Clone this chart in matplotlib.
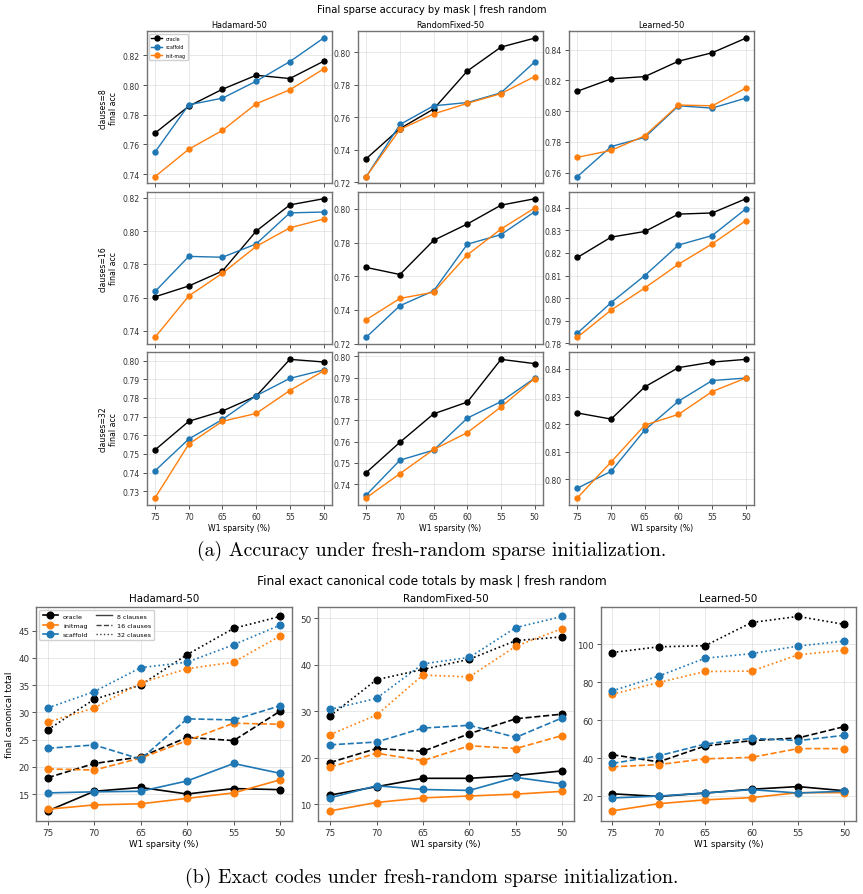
import numpy as np
import matplotlib.pyplot as plt
from matplotlib.lines import Line2D

sparsity = [75, 70, 65, 60, 55, 50]
masks = ["Hadamard-50", "RandomFixed-50", "Learned-50"]
clause_counts = [8, 16, 32]

# (a) final accuracy, one row per clause count (8, 16, 32)
acc_hadamard_oracle = [[0.7677, 0.7858, 0.7972, 0.8066, 0.8044, 0.8160],
                       [0.7605, 0.7670, 0.7760, 0.8000, 0.8158, 0.8195],
                       [0.7522, 0.7675, 0.7730, 0.7810, 0.8007, 0.7993]]
acc_hadamard_scaffold = [[0.7550, 0.7867, 0.7912, 0.8026, 0.8158, 0.8316],
                         [0.7637, 0.7848, 0.7843, 0.7923, 0.8110, 0.8115],
                         [0.7410, 0.7580, 0.7685, 0.7812, 0.7905, 0.7950]]
acc_hadamard_initmag = [[0.7384, 0.7568, 0.7695, 0.7874, 0.7968, 0.8108],
                        [0.7362, 0.7610, 0.7747, 0.7908, 0.8020, 0.8073],
                        [0.7265, 0.7553, 0.7675, 0.7717, 0.7840, 0.7945]]

acc_random_oracle = [[0.7345, 0.7530, 0.7650, 0.7884, 0.8031, 0.8086],
                     [0.7652, 0.7610, 0.7813, 0.7910, 0.8022, 0.8060],
                     [0.7455, 0.7597, 0.7730, 0.7785, 0.7985, 0.7965]]
acc_random_scaffold = [[0.7235, 0.7555, 0.7670, 0.7690, 0.7750, 0.7940],
                       [0.7238, 0.7425, 0.7513, 0.7790, 0.7847, 0.7983],
                       [0.7350, 0.7513, 0.7560, 0.7710, 0.7787, 0.7897]]
acc_random_initmag = [[0.7235, 0.7525, 0.7620, 0.7685, 0.7745, 0.7850],
                      [0.7342, 0.7468, 0.7505, 0.7727, 0.7880, 0.8005],
                      [0.7337, 0.7450, 0.7563, 0.7642, 0.7762, 0.7895]]

acc_learned_oracle = [[0.8130, 0.8210, 0.8225, 0.8325, 0.8380, 0.8475],
                      [0.8180, 0.8270, 0.8295, 0.8372, 0.8377, 0.8440],
                      [0.8240, 0.8218, 0.8335, 0.8405, 0.8425, 0.8435]]
acc_learned_scaffold = [[0.7575, 0.7770, 0.7830, 0.8035, 0.8020, 0.8085],
                        [0.7845, 0.7980, 0.8100, 0.8235, 0.8277, 0.8395],
                        [0.7967, 0.8028, 0.8178, 0.8283, 0.8358, 0.8367]]
acc_learned_initmag = [[0.7700, 0.7745, 0.7840, 0.8040, 0.8035, 0.8150],
                       [0.7827, 0.7947, 0.8045, 0.8150, 0.8240, 0.8343],
                       [0.7932, 0.8062, 0.8196, 0.8235, 0.8318, 0.8367]]

# (b) exact canonical code totals, one row per clause count (8, 16, 32)
codes_hadamard_oracle = [[11.9, 15.5, 16.2, 15.0, 16.0, 15.8],
                         [18.0, 20.6, 21.8, 25.4, 24.8, 30.2],
                         [26.8, 32.4, 35.0, 40.6, 45.4, 47.6]]
codes_hadamard_initmag = [[12.2, 13.0, 13.2, 14.2, 15.2, 17.6],
                          [19.6, 19.4, 21.6, 24.8, 28.0, 27.8],
                          [28.2, 30.8, 35.4, 38.0, 39.2, 44.0]]
codes_hadamard_scaffold = [[15.2, 15.4, 15.5, 17.4, 20.6, 18.8],
                           [23.4, 24.0, 21.4, 28.8, 28.6, 31.2],
                           [30.8, 33.8, 38.2, 39.2, 42.4, 46.0]]

codes_random_oracle = [[12.0, 13.8, 15.6, 15.6, 16.2, 17.2],
                       [19.0, 22.0, 21.4, 25.2, 28.4, 29.4],
                       [29.0, 36.8, 39.0, 41.2, 45.2, 46.0]]
codes_random_initmag = [[8.6, 10.4, 11.4, 11.8, 12.2, 12.8],
                        [18.0, 21.0, 19.4, 22.6, 22.0, 24.8],
                        [25.0, 29.2, 37.8, 37.4, 44.0, 47.8]]
codes_random_scaffold = [[11.4, 14.0, 13.2, 13.0, 15.8, 14.4],
                         [22.8, 23.4, 26.4, 27.0, 24.4, 28.6],
                         [30.4, 32.8, 40.2, 41.6, 48.0, 50.4]]

codes_learned_oracle = [[21.2, 19.8, 21.6, 23.6, 25.0, 22.8],
                        [41.8, 38.0, 46.4, 49.2, 50.6, 56.6],
                        [95.6, 98.6, 99.2, 111.4, 114.6, 110.4]]
codes_learned_initmag = [[12.2, 16.0, 18.0, 19.2, 21.8, 21.8],
                         [35.4, 36.6, 39.6, 40.4, 45.0, 45.0],
                         [73.6, 79.8, 85.6, 85.8, 94.4, 96.8]]
codes_learned_scaffold = [[19.0, 20.0, 21.6, 23.4, 21.6, 22.6],
                          [37.2, 41.2, 47.4, 50.4, 49.2, 52.0],
                          [75.4, 83.2, 92.6, 95.0, 99.0, 101.6]]

acc_data = [
    {"oracle": acc_hadamard_oracle, "scaffold": acc_hadamard_scaffold, "init-mag": acc_hadamard_initmag},
    {"oracle": acc_random_oracle, "scaffold": acc_random_scaffold, "init-mag": acc_random_initmag},
    {"oracle": acc_learned_oracle, "scaffold": acc_learned_scaffold, "init-mag": acc_learned_initmag},
]
codes_data = [
    {"oracle": codes_hadamard_oracle, "initmag": codes_hadamard_initmag, "scaffold": codes_hadamard_scaffold},
    {"oracle": codes_random_oracle, "initmag": codes_random_initmag, "scaffold": codes_random_scaffold},
    {"oracle": codes_learned_oracle, "initmag": codes_learned_initmag, "scaffold": codes_learned_scaffold},
]

COLORS = {"oracle": "black", "scaffold": "#1f77b4", "init-mag": "#ff7f0e", "initmag": "#ff7f0e"}
STYLES = ["-", "--", ":"]
SPINE = "0.45"

fig = plt.figure(figsize=(8.63, 8.95), dpi=100)

def style_axes(ax, fs):
    ax.grid(True, color="0.85", linewidth=0.6, alpha=0.7)
    ax.tick_params(labelsize=fs, length=3, width=0.6, pad=2, colors="0.2")
    for s in ax.spines.values():
        s.set_color(SPINE)
        s.set_linewidth(1.0)
    ax.set_xticks(sparsity)
    ax.set_xlim(76.25, 48.75)

# ---- (a) accuracy grid ----
gs_a = fig.add_gridspec(3, 3, left=0.170, right=0.874, top=0.964, bottom=0.435,
                        wspace=0.14, hspace=0.055)
fs_a = 5.6
for r, nc in enumerate(clause_counts):
    for c, mask in enumerate(masks):
        ax = fig.add_subplot(gs_a[r, c])
        for name, vals in acc_data[c].items():
            ax.plot(sparsity, vals[r], marker="o", ms=3.6, lw=1.0,
                    color=COLORS[name], label=name)
        style_axes(ax, fs_a)
        if r == 0:
            ax.set_title(mask, fontsize=fs_a + 0.3, pad=3)
        if r < 2:
            ax.tick_params(labelbottom=False)
        else:
            ax.set_xlabel("W1 sparsity (%)", fontsize=fs_a, labelpad=2)
        if c == 0:
            ax.set_ylabel(f"clauses={nc}\nfinal acc", fontsize=fs_a, labelpad=3)
        if r == 0 and c == 0:
            ax.legend(loc="upper left", fontsize=3.4, handlelength=2.2,
                      borderpad=0.5, labelspacing=0.7, framealpha=0.9)

fig.text(0.5, 1 - 10 / 895, "Final sparse accuracy by mask | fresh random",
         ha="center", va="center", fontsize=7.2)
fig.text(0.5, 1 - 551 / 895, "(a) Accuracy under fresh-random sparse initialization.",
         ha="center", va="center", fontsize=14.3, family="cmr10")

# ---- (b) exact canonical code totals ----
gs_b = fig.add_gridspec(1, 3, left=0.042, right=0.992, top=0.321, bottom=0.082,
                        wspace=0.105)
fs_b = 6.3
for c, mask in enumerate(masks):
    ax = fig.add_subplot(gs_b[0, c])
    for name, vals in codes_data[c].items():
        for r in range(3):
            ax.plot(sparsity, vals[r], marker="o", ms=4.8, lw=1.2,
                    ls=STYLES[r], color=COLORS[name])
    style_axes(ax, fs_b)
    ax.set_title(mask, fontsize=7.4, pad=4)
    ax.set_xlabel("W1 sparsity (%)", fontsize=fs_b, labelpad=2)
    if c == 0:
        ax.set_ylabel("final canonical total", fontsize=fs_b, labelpad=3)
        handles = [Line2D([], [], color=COLORS[n], marker="o", ms=4.8, lw=1.2)
                   for n in ["oracle", "initmag", "scaffold"]]
        handles += [Line2D([], [], color="0.25", lw=1.0, ls=s) for s in STYLES]
        labels = ["oracle", "initmag", "scaffold"] + [f"{n} clauses" for n in clause_counts]
        ax.legend(handles, labels, loc="upper left", ncol=2, fontsize=4.6,
                  handlelength=2.4, columnspacing=1.2, borderpad=0.5,
                  labelspacing=0.6, framealpha=0.9)

fig.text(0.5, 1 - 581 / 895, "Final exact canonical code totals by mask | fresh random",
         ha="center", va="center", fontsize=8.8)
fig.text(0.5, 1 - 878 / 895, "(b) Exact codes under fresh-random sparse initialization.",
         ha="center", va="center", fontsize=14.3, family="cmr10")

fig.savefig("out.png", dpi=100)
